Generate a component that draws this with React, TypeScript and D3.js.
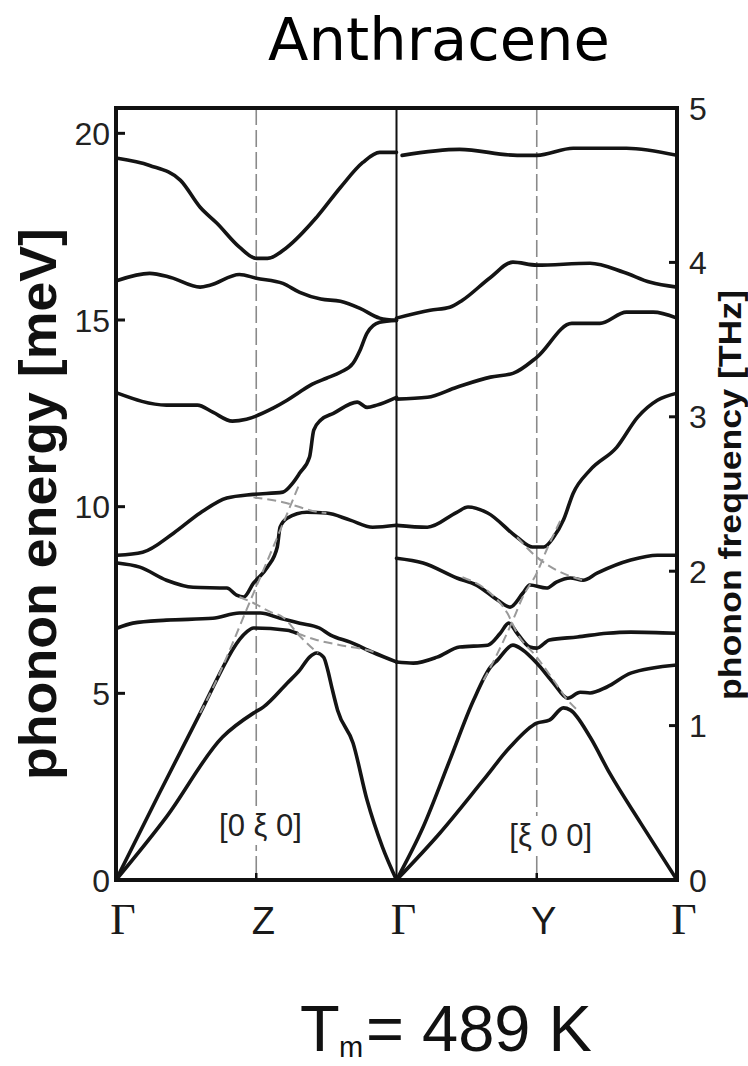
import React, { useEffect, useRef } from "react";
import * as d3 from "d3";

const W = 748;
const H = 1066;
const MEV_PER_THZ = 4.1357;

const pointLabels = ["Γ", "Z", "Γ", "Y", "Γ"];
const pointPos = [0, 1, 2, 3, 4];
const meVTicks = [0, 5, 10, 15, 20];
const thzTicks = [0, 1, 2, 3, 4, 5];
const dirLabels = [{ q: 1.03, text: "[0 ξ 0]", y: 836 }, { q: 3.1, text: "[ξ 0 0]", y: 846 }];

// branches along Γ-Z-Γ, [q, energy meV]
const gzA = [[0.01, 19.33], [0.24, 19.14], [0.46, 18.74], [0.6, 18.02], [0.72, 17.59], [0.88, 16.95], [1.0, 16.65], [1.08, 16.65], [1.22, 16.95], [1.43, 17.75], [1.6, 18.55], [1.76, 19.22], [1.88, 19.49], [2.0, 19.49]];
const gzB = [[0.01, 16.06], [0.24, 16.25], [0.39, 16.14], [0.6, 15.88], [0.67, 15.93], [0.88, 16.22], [1.0, 16.12], [1.19, 15.98], [1.31, 15.74], [1.46, 15.56], [1.6, 15.5], [1.74, 15.31], [1.88, 15.05], [2.0, 14.99]];
const gzC = [[0.01, 13.04], [0.36, 12.72], [0.58, 12.72], [0.69, 12.53], [0.83, 12.29], [0.93, 12.34], [1.12, 12.64], [1.22, 12.85], [1.31, 13.07], [1.4, 13.28], [1.5, 13.44], [1.6, 13.6], [1.69, 13.84], [1.74, 14.19], [1.79, 14.65], [1.88, 14.94], [2.0, 14.99]];
const gzD = [[0.01, 8.7], [0.19, 8.78], [0.41, 9.29], [0.6, 9.83], [0.79, 10.23], [0.98, 10.33], [1.19, 10.39], [1.26, 10.63], [1.31, 10.9], [1.38, 11.33], [1.41, 12.05], [1.46, 12.32], [1.55, 12.5], [1.72, 12.8], [1.79, 12.66], [1.86, 12.72], [2.0, 12.93]];
const gzE = [[0.01, 8.49], [0.17, 8.38], [0.36, 8.03], [0.55, 7.84], [0.79, 7.82], [0.86, 7.63], [0.91, 7.58], [0.98, 7.95], [1.08, 8.38], [1.15, 8.92], [1.17, 9.45], [1.22, 9.69], [1.36, 9.85], [1.5, 9.83], [1.67, 9.64], [1.83, 9.45], [2.0, 9.5]];
const gzF = [[0.01, 6.75], [0.12, 6.88], [0.36, 6.96], [0.69, 7.01], [0.88, 7.15], [1.03, 7.15], [1.17, 7.01], [1.31, 6.88], [1.45, 6.75], [1.53, 6.56], [1.67, 6.37], [1.83, 6.1], [2.0, 5.84]];
const gzG = [[0, 0], [0.31, 2.33], [0.6, 4.47], [0.79, 5.89], [0.83, 6.16], [0.93, 6.64], [0.98, 6.75], [1.22, 6.69], [1.29, 6.61]];
const gzH = [[0, 0], [0.36, 1.69], [0.76, 3.83], [0.98, 4.47], [1.05, 4.63], [1.22, 5.27], [1.31, 5.62], [1.38, 5.97], [1.43, 6.08], [1.48, 5.97], [1.51, 5.62], [1.54, 5.14], [1.58, 4.55], [1.69, 3.67], [1.79, 2.14], [1.9, 0.88], [2.0, 0.0]];

// branches along Γ-Y-Γ
const gyA = [[2.04, 19.41], [2.45, 19.57], [2.86, 19.41], [3.0, 19.41], [3.26, 19.6], [3.64, 19.6], [4.0, 19.41]];
const gyB = [[2.0, 15.05], [2.24, 15.26], [2.38, 15.34], [2.47, 15.53], [2.67, 16.14], [2.83, 16.55], [3.0, 16.47], [3.38, 16.52], [3.62, 16.28], [3.81, 16.01], [4.0, 15.88]];
const gyC = [[2.0, 12.88], [2.22, 12.93], [2.43, 13.2], [2.67, 13.47], [2.83, 13.57], [3.0, 14.0], [3.25, 14.91], [3.45, 14.91], [3.64, 15.21], [3.83, 15.21], [4.0, 15.05]];
const gyE = [[2.0, 9.5], [2.22, 9.45], [2.43, 9.85], [2.51, 9.99], [2.65, 9.83], [2.86, 9.18], [2.97, 8.92], [3.05, 8.92], [3.12, 9.18], [3.19, 9.64], [3.26, 10.36], [3.38, 10.98], [3.57, 11.59], [3.72, 12.4], [3.86, 12.85], [4.0, 13.04]];
const gyF = [[2.0, 8.62], [2.19, 8.49], [2.43, 8.09], [2.57, 7.9], [2.72, 7.5], [2.81, 7.31], [2.9, 7.68], [2.95, 7.9], [3.07, 7.82], [3.14, 7.98], [3.24, 8.09], [3.33, 8.03], [3.43, 8.22], [3.67, 8.57], [3.86, 8.7], [4.0, 8.7]];
const gyO = [[2.0, 5.84], [2.12, 5.81], [2.29, 5.97], [2.45, 6.24], [2.65, 6.29], [2.74, 6.61], [2.8, 6.88], [2.86, 6.61], [2.95, 6.24], [3.0, 6.21], [3.09, 6.43], [3.29, 6.51], [3.5, 6.61], [3.67, 6.64], [4.0, 6.61]];
const gyG = [[2.0, 0], [2.19, 1.42], [2.38, 3.21], [2.55, 4.82], [2.67, 5.7], [2.72, 5.89], [2.83, 6.29], [2.9, 6.16], [3.0, 5.81], [3.12, 5.27], [3.22, 4.87], [3.31, 5.03], [3.38, 5.01], [3.5, 5.17], [3.67, 5.54], [4.0, 5.76]];
const gyH = [[2.0, 0], [2.31, 1.26], [2.62, 2.68], [2.81, 3.56], [3.0, 4.2], [3.09, 4.28], [3.19, 4.61], [3.24, 4.55], [3.38, 3.83], [3.52, 2.86], [3.74, 1.53], [4.0, 0]];

// grey dashed unperturbed branches
const dz1 = [[0.6, 4.47], [0.69, 5.14], [0.98, 7.68], [1.15, 9.18], [1.31, 10.63]];
const dz2 = [[0.98, 10.25], [1.19, 10.12], [1.45, 9.85], [1.5, 9.83]];
const dz3 = [[0.88, 7.58], [0.98, 7.42], [1.1, 7.18], [1.19, 7.04], [1.29, 6.61]];
const dz4 = [[1.29, 6.61], [1.43, 6.43], [1.6, 6.29], [1.79, 6.16], [1.86, 6.08]];
const dz5 = [[1.29, 6.61], [1.4, 6.21], [1.44, 6.08]];
const dy1 = [[2.86, 9.18], [3.0, 8.65], [3.14, 8.3], [3.33, 8.03]];
const dy2 = [[2.62, 5.35], [2.67, 5.7], [2.83, 6.96], [2.9, 7.58], [3.0, 8.22], [3.07, 8.84], [3.17, 9.64]];
const dy3 = [[2.47, 8.11], [2.67, 7.68], [2.79, 7.15], [2.86, 6.61], [3.0, 5.97], [3.12, 5.35], [3.22, 4.82], [3.29, 4.55]];

const solidBranches = [gzA, gzB, gzC, gzD, gzE, gzF, gzG, gzH, gyA, gyB, gyC, gyE, gyF, gyO, gyG, gyH];
const dashedBranches = [dz1, dz2, dz3, dz4, dz5, dy1, dy2, dy3];

const SANS = "'Liberation Sans', Arial, sans-serif";

export default function App() {
  const svgRef = useRef<SVGSVGElement>(null);

  useEffect(() => {
    const svg = d3.select(svgRef.current);
    svg.selectAll("*").remove();

    const left = 116, right = 677, top = 108, bottom = 880;
    const x = d3.scaleLinear().domain([0, 4]).range([left, right]);
    const y = d3.scaleLinear().domain([0, 5 * MEV_PER_THZ]).range([bottom, top]);
    const yT = d3.scaleLinear().domain([0, 5]).range([bottom, top]);

    svg.append("rect").attr("width", W).attr("height", H).attr("fill", "white");

    svg.append("defs").append("clipPath").attr("id", "plotclip")
      .append("rect").attr("x", left).attr("y", top).attr("width", right - left).attr("height", bottom - top);

    const g = svg.append("g").attr("clip-path", "url(#plotclip)");

    // Z and Y guide lines
    [1, 3].forEach((q) => {
      g.append("line")
        .attr("x1", x(q)).attr("x2", x(q)).attr("y1", top).attr("y2", bottom)
        .attr("stroke", "#8a8a8a").attr("stroke-width", 1.6)
        .attr("stroke-dasharray", "17,5");
    });

    // direction labels with white backing
    dirLabels.forEach((d) => {
      const t = g.append("text")
        .attr("x", x(d.q)).attr("y", d.y)
        .attr("text-anchor", "middle")
        .attr("font-family", SANS).attr("font-size", 31)
        .attr("fill", "#222")
        .text(d.text);
      const bb = (t.node() as SVGTextElement).getBBox();
      g.insert("rect", "text")
        .attr("x", bb.x - 2).attr("y", bb.y - 2)
        .attr("width", bb.width + 4).attr("height", bb.height + 4)
        .attr("fill", "white");
    });

    // middle Γ line
    g.append("line")
      .attr("x1", x(2)).attr("x2", x(2)).attr("y1", top).attr("y2", bottom)
      .attr("stroke", "#111").attr("stroke-width", 2);

    const line = d3.line<number[]>()
      .x((d) => x(d[0]))
      .y((d) => y(d[1]))
      .curve(d3.curveMonotoneX);

    g.selectAll(".solid")
      .data(solidBranches)
      .enter().append("path")
      .attr("class", "solid")
      .attr("d", (d) => line(d))
      .attr("fill", "none")
      .attr("stroke", "#141414")
      .attr("stroke-width", 3.6)
      .attr("stroke-linejoin", "round")
      .attr("stroke-linecap", "round");

    g.selectAll(".dashed")
      .data(dashedBranches)
      .enter().append("path")
      .attr("class", "dashed")
      .attr("d", (d) => line(d))
      .attr("fill", "none")
      .attr("stroke", "#9a9a9a")
      .attr("stroke-width", 2)
      .attr("stroke-dasharray", "9,5");

    // frame
    svg.append("rect")
      .attr("x", left).attr("y", top).attr("width", right - left).attr("height", bottom - top)
      .attr("fill", "none").attr("stroke", "#111").attr("stroke-width", 4);

    // left axis (meV), ticks pointing in
    meVTicks.forEach((v) => {
      svg.append("line").attr("x1", left).attr("x2", left + 9)
        .attr("y1", y(v)).attr("y2", y(v)).attr("stroke", "#111").attr("stroke-width", 3);
      svg.append("text").attr("x", left - 6).attr("y", y(v)).attr("dy", "0.36em")
        .attr("text-anchor", "end").attr("font-family", SANS).attr("font-size", 32)
        .attr("fill", "#222").text(v);
    });

    // right axis (THz)
    thzTicks.forEach((v) => {
      svg.append("line").attr("x1", right).attr("x2", right - 8)
        .attr("y1", yT(v)).attr("y2", yT(v)).attr("stroke", "#111").attr("stroke-width", 3);
      svg.append("text").attr("x", right + 12).attr("y", yT(v)).attr("dy", "0.36em")
        .attr("text-anchor", "start").attr("font-family", SANS).attr("font-size", 32)
        .attr("fill", "#222").text(v);
    });

    // small ticks at Z and Y
    [1, 3].forEach((q) => {
      svg.append("line").attr("x1", x(q)).attr("x2", x(q)).attr("y1", bottom).attr("y2", bottom - 7)
        .attr("stroke", "#111").attr("stroke-width", 2.5);
    });

    // symmetry point labels
    pointPos.forEach((q, i) => {
      const isGamma = pointLabels[i] === "Γ";
      svg.append("text")
        .attr("x", x(q) + 7).attr("y", 934)
        .attr("text-anchor", "middle")
        .attr("font-family", isGamma ? "'Liberation Serif', 'Times New Roman', serif" : SANS)
        .attr("font-size", isGamma ? 44 : 38)
        .attr("fill", "#1a1a1a")
        .text(pointLabels[i]);
    });

    // axis titles
    svg.append("text")
      .attr("transform", "translate(56,504) rotate(-90)")
      .attr("text-anchor", "middle")
      .attr("font-family", SANS).attr("font-weight", "bold").attr("font-size", 52)
      .attr("textLength", 552).attr("lengthAdjust", "spacingAndGlyphs")
      .attr("fill", "#111")
      .text("phonon energy [meV]");

    svg.append("text")
      .attr("transform", "translate(741,495) rotate(-90)")
      .attr("text-anchor", "middle")
      .attr("font-family", SANS).attr("font-weight", "bold").attr("font-size", 32)
      .attr("textLength", 410).attr("lengthAdjust", "spacingAndGlyphs")
      .attr("fill", "#111")
      .text("phonon frequency [THz]");

    // title
    svg.append("text")
      .attr("x", 439).attr("y", 60)
      .attr("text-anchor", "middle")
      .attr("font-family", "'Comic Sans MS', 'DejaVu Sans', sans-serif").attr("font-size", 58)
      .attr("textLength", 342).attr("lengthAdjust", "spacingAndGlyphs")
      .attr("fill", "#000")
      .text("Anthracene");

    // melting temperature
    const tm = svg.append("text").attr("font-family", SANS).attr("fill", "#111");
    tm.append("tspan").attr("x", 300).attr("y", 1051).attr("font-size", 65).text("T");
    tm.append("tspan").attr("x", 339).attr("y", 1057).attr("font-size", 29).text("m");
    tm.append("tspan").attr("x", 366).attr("y", 1051).attr("font-size", 65).text("= 489 K");
  }, []);

  return (
    <svg
      ref={svgRef}
      width={W}
      height={H}
      style={{ position: "absolute", left: 0, top: 0, display: "block" }}
    />
  );
}
